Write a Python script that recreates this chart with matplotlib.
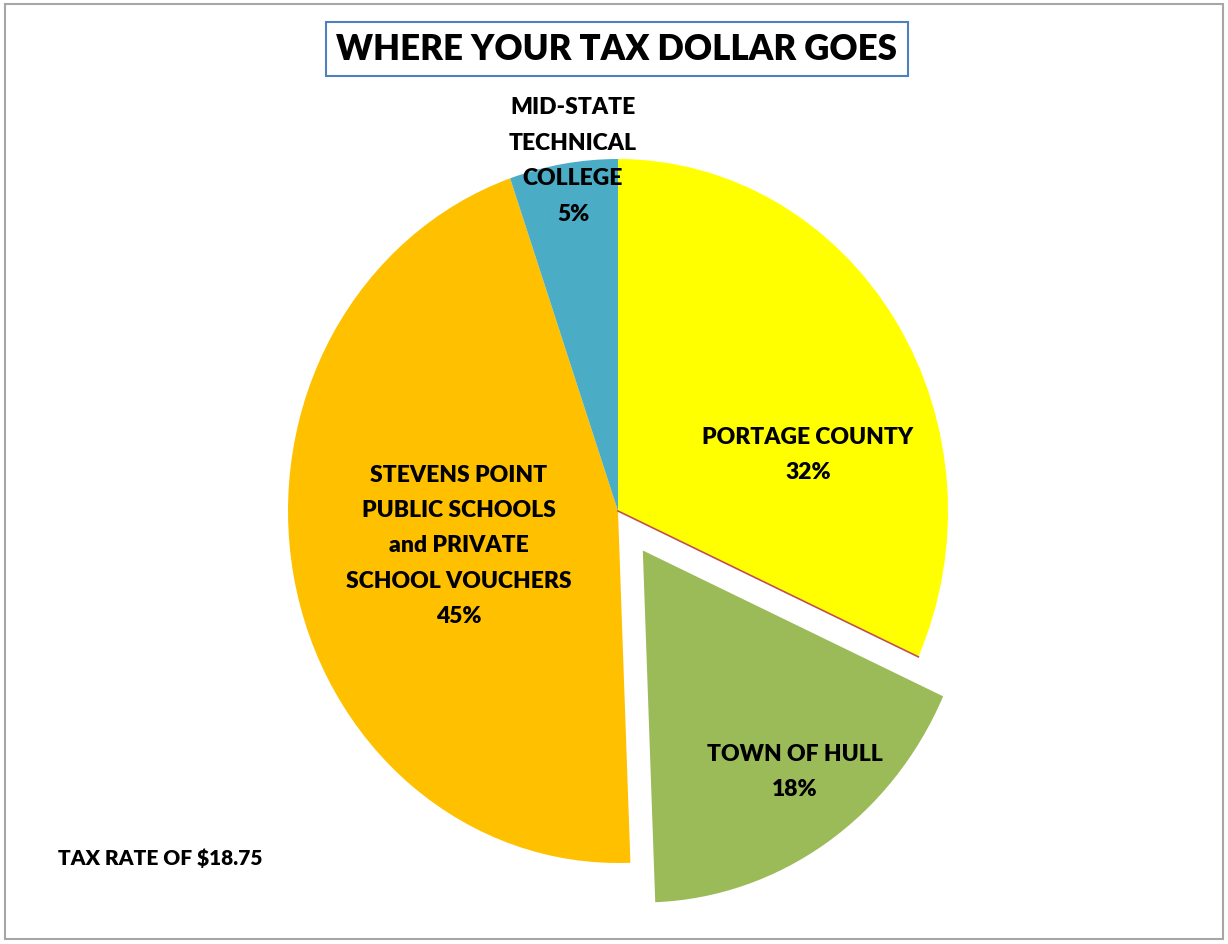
import numpy as np
import matplotlib
matplotlib.use("Agg")
import matplotlib.pyplot as plt
from matplotlib.patches import Rectangle

categories = ["PORTAGE COUNTY", "TOWN OF HULL",
              "STEVENS POINT\nPUBLIC SCHOOLS\nand PRIVATE\nSCHOOL VOUCHERS",
              "MID-STATE\nTECHNICAL\nCOLLEGE"]
values = [31.8, 17.6, 45.3, 5.3]
colors = ["#FFFF00", "#9BBB59", "#FFC000", "#4BACC6"]
explode = [0, 0.135, 0, 0]
title = "WHERE YOUR TAX DOLLAR GOES"
note = "TAX RATE OF $18.75"

FONT = ["Lato", "DejaVu Sans"]
W, H = 1228, 945
fig = plt.figure(figsize=(W / 100, H / 100), dpi=100)
fig.patch.set_facecolor("white")

# outer border
fig.add_artist(Rectangle((5 / W, 5 / H), 1 - 10 / W, 1 - 10 / H, transform=fig.transFigure,
                         fill=False, edgecolor="#A6A6A6", linewidth=1.5))

cx, cy, rx, ry = 618, 512, 330, 352
ax = fig.add_axes([(cx - rx) / W, (H - cy - ry) / H, 2 * rx / W, 2 * ry / H])
wedges, _ = ax.pie(values, colors=colors, explode=explode, startangle=90,
                   counterclock=False, radius=1.0)
for w in wedges:
    w.set_clip_on(False)
ax.set_aspect("auto")
ax.set_xlim(-1, 1)
ax.set_ylim(-1, 1)
ax.axis("off")

# thin red edge along Portage/Hull boundary
th = np.deg2rad(wedges[0].theta1)
ax.plot([0, np.cos(th)], [0, np.sin(th)], color="#C0504D", lw=1.2, clip_on=False)

def ftext(x, y, s, weight="heavy", **kw):
    fig.text(x / W, 1 - y / H, s, family=FONT, fontweight=weight, **kw)

lab_kw = dict(ha="center", va="center", fontsize=16.5, linespacing=1.85, color="black")
ftext(808, 455, f"{categories[0]}\n{values[0]:.0f}%", **lab_kw)
ftext(795, 772, f"{categories[1]}\n{values[1]:.0f}%", **lab_kw)
ftext(459, 546, f"{categories[2]}\n{values[2]:.0f}%", **lab_kw)
ftext(573, 161, f"{categories[3]}\n{values[3]:.0f}%", **lab_kw)

ftext(58, 858, note, ha="left", va="center", fontsize=15, color="black")

ftext(617, 50, title, ha="center", va="center", fontsize=25, color="black",
      bbox=dict(boxstyle="square,pad=0.3", facecolor="white", edgecolor="#4F81BD", linewidth=1.5))

fig.savefig("out.png", dpi=100, facecolor="white")
